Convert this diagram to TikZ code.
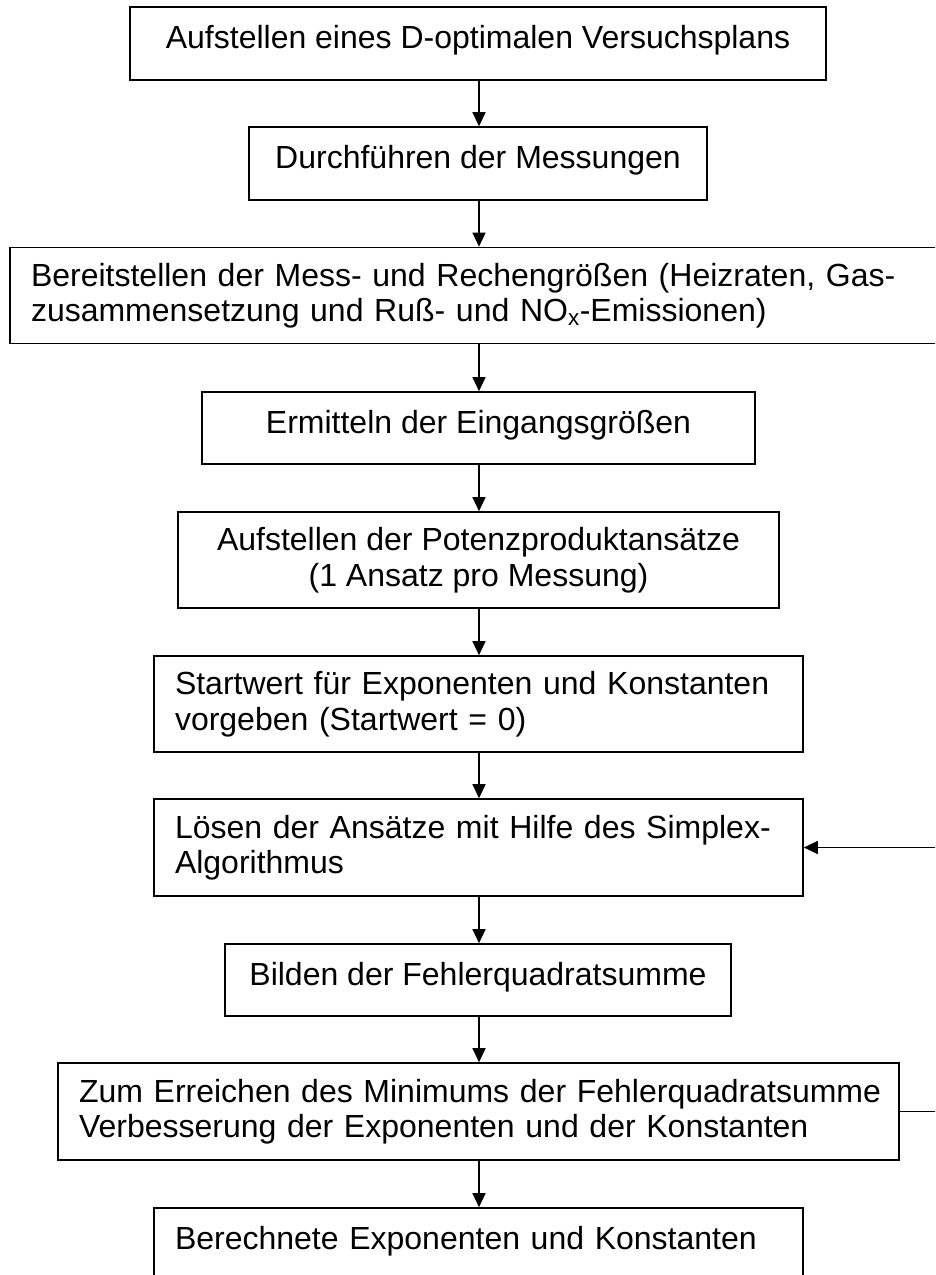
\documentclass[tikz,border=0pt]{standalone}
\usepackage{fontspec}
\setmainfont{Liberation Sans}
\usetikzlibrary{arrows.meta}
\newcommand{\lowstrut}{\rule[-13pt]{0pt}{1pt}}
\tikzset{
  box/.style={draw, line width=1.6pt, rectangle, font=\fontsize{32}{35.5}\selectfont, inner ysep=0pt},
  cbox/.style={box, align=center, inner xsep=0pt},
  lbox/.style={box, align=left, inner xsep=21pt}
}
\tikzset{flow/.style={line width=1.2pt, -{Triangle[length=14pt,width=13pt]}}}
\begin{document}
\begin{tikzpicture}[x=1pt,y=-1pt]
\useasboundingbox (0,0) rectangle (935,1275);
\clip (0,0) rectangle (935,1275);
\node[cbox, minimum width=696pt, minimum height=73pt] (b1) at (478,43.5) {Aufstellen eines D-optimalen Versuchsplans\lowstrut};
\node[cbox, minimum width=458pt, minimum height=73pt] (b2) at (478,163.5) {Durchführen der Messungen\lowstrut};
\node[lbox, minimum width=1000pt, text width=958pt, minimum height=96pt] (b3) at (510,295.5) {\mbox{Bereitstellen der Mess- und Rechengrößen (Heizraten, Gas-}\\\mbox{zusammensetzung und Ruß- und NO\textsubscript{x}-Emissionen)}};
\node[cbox, minimum width=553pt, minimum height=72pt] (b4) at (478.5,428) {Ermitteln der Eingangsgrößen\lowstrut};
\node[cbox, minimum width=601pt, minimum height=96pt] (b5) at (478.5,560) {Aufstellen der Potenzproduktansätze\\(1 Ansatz pro Messung)};
\node[lbox, minimum width=649pt, text width=607pt, minimum height=96pt] (b6) at (478.5,704) {\mbox{Startwert für Exponenten und Konstanten}\\\mbox{vorgeben (Startwert = 0)}};
\node[lbox, minimum width=649pt, text width=607pt, minimum height=97pt] (b7) at (478.5,847.5) {\mbox{Lösen der Ansätze mit Hilfe des Simplex-}\\\mbox{Algorithmus}};
\node[cbox, minimum width=506pt, minimum height=72pt] (b8) at (478,980) {Bilden der Fehlerquadratsumme\lowstrut};
\node[lbox, minimum width=841pt, text width=799pt, minimum height=97pt] (b9) at (478.5,1111.5) {\mbox{Zum Erreichen des Minimums der Fehlerquadratsumme}\\\mbox{Verbesserung der Exponenten und der Konstanten}};
\node[lbox, minimum width=649pt, text width=607pt, minimum height=73pt] (b10) at (478.5,1244.5) {\mbox{Berechnete Exponenten und Konstanten}\lowstrut};
\draw[flow] (b1.south -| 479,0) -- (b2.north -| 479,0);
\draw[flow] (b2.south -| 479,0) -- (b3.north -| 479,0);
\draw[flow] (b3.south -| 479,0) -- (b4.north -| 479,0);
\draw[flow] (b4.south -| 479,0) -- (b5.north -| 479,0);
\draw[flow] (b5.south -| 479,0) -- (b6.north -| 479,0);
\draw[flow] (b6.south -| 479,0) -- (b7.north -| 479,0);
\draw[flow] (b7.south -| 479,0) -- (b8.north -| 479,0);
\draw[flow] (b8.south -| 479,0) -- (b9.north -| 479,0);
\draw[flow] (b9.south -| 479,0) -- (b10.north -| 479,0);
\draw[flow] (b9.east) -- ++(80,0) |- (b7.east);
\end{tikzpicture}
\end{document}
